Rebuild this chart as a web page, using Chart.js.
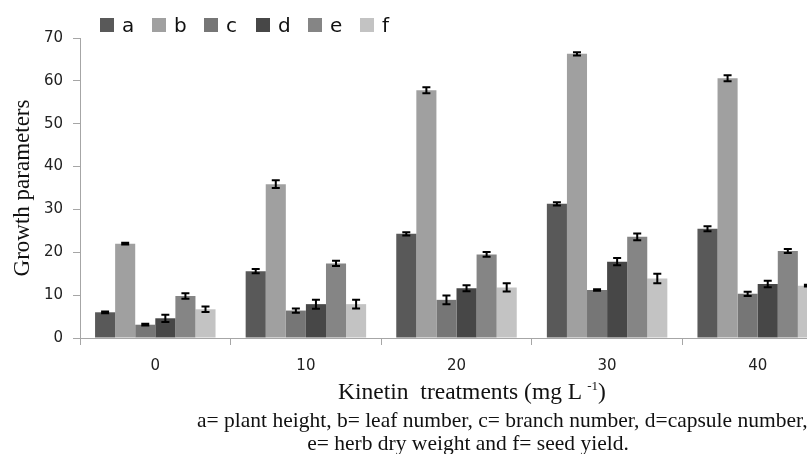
<!DOCTYPE html>
<html>
<head>
<meta charset="utf-8">
<script src="https://cdn.jsdelivr.net/npm/chart.js@4"></script>
<style>
  html, body { margin: 0; padding: 0; background: #fff; overflow: hidden; width: 807px; height: 454px; }
  #wrap { position: relative; width: 807px; height: 454px; overflow: hidden; }
  #grafico { position: absolute; left: 0; top: 0; }
  #legenda { position: absolute; left: 100px; top: 13px; display: flex; font-family: "DejaVu Sans", sans-serif; font-size: 20px; color: #111; }
  #legenda .item { width: 52px; display: flex; align-items: center; }
  #legenda .caixa { width: 14px; height: 14px; margin-right: 8px; }
  .texto { position: absolute; font-family: "Liberation Serif", serif; color: #111; white-space: nowrap; }
  #tituloX { top: 378px; left: 472px; transform: translateX(-50%); font-size: 23.5px; }
  #tituloX sup { font-size: 13px; }
  #nota1 { top: 408px; left: 197px; font-size: 21.5px; }
  #nota2 { top: 431px; left: 468px; transform: translateX(-50%); font-size: 21.5px; }
</style>
</head>
<body>
<div id="wrap">
  <canvas id="grafico" width="840" height="454"></canvas>
  <div id="legenda"></div>
  <div class="texto" id="tituloX">Kinetin&nbsp; treatments (mg L <sup>-1</sup>)</div>
  <div class="texto" id="nota1">a= plant height, b= leaf number, c= branch number, d=capsule number,</div>
  <div class="texto" id="nota2">e= herb dry weight and f= seed yield.</div>
</div>
<script>
// tratamentos de cinetina
let Categorias = ['0', '10', '20', '30', '40'];

let SerieA = [6.0, 15.6, 24.3, 31.3, 25.5];
let ErroA  = [0.2, 0.5, 0.4, 0.4, 0.6];
let SerieB = [22.0, 35.9, 57.8, 66.3, 60.6];
let ErroB  = [0.2, 0.9, 0.7, 0.4, 0.7];
let SerieC = [3.1, 6.4, 8.9, 11.2, 10.3];
let ErroC  = [0.2, 0.5, 1.0, 0.2, 0.5];
let SerieD = [4.6, 7.9, 11.6, 17.8, 12.6];
let ErroD  = [0.85, 1.05, 0.7, 0.85, 0.75];
let SerieE = [9.8, 17.4, 19.5, 23.6, 20.3];
let ErroE  = [0.65, 0.6, 0.55, 0.8, 0.45];
let SerieF = [6.7, 7.9, 11.8, 13.9, 12.2];
let ErroF  = [0.65, 1.0, 0.95, 1.1, 0.2];

let Rotulos = ['a', 'b', 'c', 'd', 'e', 'f'];
let Cores = ['#595959', '#a0a0a0', '#767676', '#474747', '#858585', '#c3c3c3'];

let Series = [SerieA, SerieB, SerieC, SerieD, SerieE, SerieF];
let Erros = [ErroA, ErroB, ErroC, ErroD, ErroE, ErroF];

// legenda em html
var legenda = document.getElementById('legenda');
Rotulos.forEach(function(r, i){
  var item = document.createElement('div');
  item.className = 'item';
  item.innerHTML = '<span class="caixa" style="background:' + Cores[i] + '"></span><span>' + r + '</span>';
  legenda.appendChild(item);
});

// barras de erro desenhadas com as escalas do grafico
var barrasErro = {
  id: 'barrasErro',
  afterDatasetsDraw: function(chart){
    var ctx = chart.ctx;
    var y = chart.scales.y;
    ctx.save();
    ctx.strokeStyle = '#000';
    ctx.lineWidth = 2;
    chart.data.datasets.forEach(function(ds, i){
      var meta = chart.getDatasetMeta(i);
      meta.data.forEach(function(bar, j){
        var v = ds.data[j], e = Erros[i][j];
        var yTop = y.getPixelForValue(v + e);
        var yBot = y.getPixelForValue(v - e);
        var x = bar.x;
        ctx.beginPath();
        ctx.moveTo(x, yTop); ctx.lineTo(x, yBot);
        ctx.moveTo(x - 4, yTop); ctx.lineTo(x + 4, yTop);
        ctx.moveTo(x - 4, yBot); ctx.lineTo(x + 4, yBot);
        ctx.stroke();
      });
    });
    ctx.restore();
  }
};

var ctx = document.getElementById('grafico').getContext('2d');
var grafico = new Chart(ctx, {
  type: 'bar',
  data: {
    labels: Categorias,
    datasets: Series.map(function(s, i){
      return {
        label: Rotulos[i],
        data: s,
        backgroundColor: Cores[i],
        borderWidth: 0,
        categoryPercentage: 0.8,
        barPercentage: 1.0
      };
    })
  },
  options: {
    responsive: false,
    animation: false,
    layout: { padding: { left: 9, right: 7, top: 38, bottom: 76 } },
    plugins: {
      legend: { display: false },
      tooltip: { enabled: false }
    },
    scales: {
      x: {
        offset: true,
        grid: { display: true, drawOnChartArea: false, offset: true, tickLength: 7, color: '#a6a6a6' },
        border: { color: '#a6a6a6' },
        ticks: { color: '#222', padding: 12, font: { family: 'DejaVu Sans', size: 15 } },
        afterFit: function(scale){ scale.height = 40; }
      },
      y: {
        min: 0,
        max: 70,
        ticks: { stepSize: 10, color: '#222', padding: 10, font: { family: 'DejaVu Sans', size: 15 } },
        grid: { display: true, drawOnChartArea: false, tickLength: 7, color: '#a6a6a6' },
        border: { color: '#a6a6a6' },
        title: { display: true, text: 'Growth parameters', color: '#111', padding: 0, font: { family: 'Liberation Serif', size: 23 } },
        afterFit: function(scale){ scale.width = 71; }
      }
    }
  },
  plugins: [barrasErro]
});
</script>
</body>
</html>
